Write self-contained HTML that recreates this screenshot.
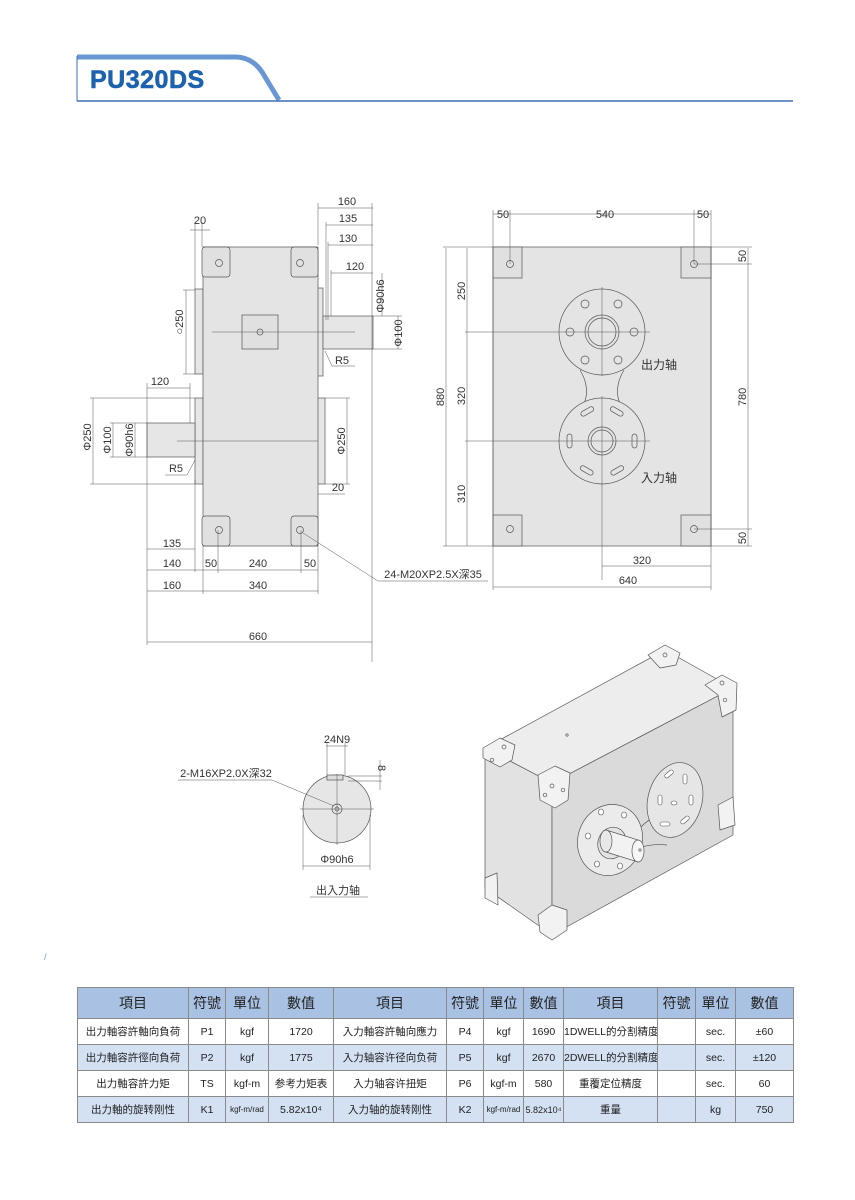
<!DOCTYPE html>
<html><head><meta charset="utf-8"><style>
body{margin:0;width:855px;height:1200px;background:#fff;position:relative;overflow:hidden;font-family:"Liberation Sans","Noto Sans CJK TC",sans-serif}
svg{position:absolute;left:0;top:0}
table{position:absolute;left:77px;top:987px;border-collapse:collapse;width:716px;font-size:10.5px;color:#222;table-layout:fixed}
td{border:1px solid #8a8a8a;text-align:center;height:25px;padding:0;white-space:nowrap;overflow:hidden}
tr.h td{background:#a9c1e2;font-size:14px;height:30px}
tr.b td{background:#d3e1f3}
</style></head><body>
<svg width="855" height="1200" viewBox="0 0 855 1200" font-family="Liberation Sans, Noto Sans CJK TC, sans-serif" font-size="11" fill="none" stroke="#444" stroke-width="0.7">
<!-- header -->
<path d="M77 57 H235 Q252 57 262 72 L279 100" stroke="#6a97d4" stroke-width="5" />
<line x1="77" y1="101" x2="793" y2="101" stroke="#3d6fb5" stroke-width="1.5"/>
<line x1="77" y1="56" x2="77" y2="101" stroke="#3d6fb5" stroke-width="1"/>
<text x="90" y="88" font-size="25" font-weight="bold" fill="#1c62ae" stroke="#1c62ae" stroke-width="0.6" letter-spacing="0.5">PU320DS</text>
<text x="44" y="960" font-size="9" fill="#6a97d4" stroke="none">/</text>

<!-- LEFT VIEW -->
<g stroke="#555">
<rect x="195" y="289" width="8" height="85" fill="#e6e6e6"/>
<rect x="315" y="288" width="8" height="88" fill="#e6e6e6"/>
<rect x="195" y="398" width="8" height="86" fill="#e6e6e6"/>
<rect x="317" y="398" width="8" height="86" fill="#e6e6e6"/>
<rect x="203" y="247" width="115" height="299" fill="#e4e4e4"/>
<rect x="202" y="247" width="28" height="30" rx="3" fill="#e0e0e0"/>
<rect x="291" y="247" width="27" height="30" rx="3" fill="#e0e0e0"/>
<rect x="202" y="516" width="28" height="30" rx="3" fill="#e0e0e0"/>
<rect x="291" y="516" width="27" height="30" rx="3" fill="#e0e0e0"/>
<circle cx="219" cy="263" r="3.5"/><circle cx="300" cy="263" r="3.5"/>
<circle cx="219" cy="530" r="3.5"/><circle cx="300" cy="530" r="3.5"/>
<rect x="242" y="315" width="36" height="34" fill="#e0e0e0"/>
<circle cx="260" cy="332" r="3"/>
<rect x="323" y="316" width="50" height="33" fill="#e6e6e6"/>
<rect x="147" y="423" width="48" height="34" fill="#e6e6e6"/>
</g>
<g stroke="#555" stroke-width="0.5">
<line x1="212" y1="332" x2="355" y2="332"/><line x1="177" y1="441" x2="318" y2="441"/>
<line x1="318" y1="208" x2="373" y2="208"/><line x1="326" y1="225" x2="373" y2="225"/>
<line x1="328" y1="245" x2="373" y2="245"/><line x1="331" y1="273" x2="373" y2="273"/>
<line x1="318" y1="203" x2="318" y2="245"/><line x1="326" y1="222" x2="326" y2="320"/>
<line x1="328" y1="242" x2="328" y2="320"/><line x1="331" y1="270" x2="331" y2="316"/>
<line x1="372" y1="203" x2="372" y2="662"/>
<line x1="373" y1="316" x2="402" y2="316"/><line x1="373" y1="349" x2="402" y2="349"/>
<line x1="398" y1="316" x2="398" y2="349"/><line x1="382" y1="273" x2="382" y2="316"/>
<line x1="190" y1="230" x2="210" y2="230"/><line x1="202" y1="222" x2="202" y2="247"/><line x1="195" y1="222" x2="195" y2="289"/>
<line x1="186" y1="290" x2="186" y2="374"/><line x1="183" y1="290" x2="195" y2="290"/><line x1="183" y1="374" x2="195" y2="374"/>
<line x1="147" y1="388" x2="190" y2="388"/><line x1="147" y1="383" x2="147" y2="645"/><line x1="190" y1="383" x2="190" y2="423"/>
<line x1="93" y1="398" x2="93" y2="484"/><line x1="90" y1="398" x2="195" y2="398"/><line x1="90" y1="484" x2="195" y2="484"/>
<line x1="113" y1="423" x2="113" y2="457"/><line x1="110" y1="423" x2="147" y2="423"/><line x1="110" y1="457" x2="147" y2="457"/>
<line x1="135" y1="423" x2="135" y2="457"/>
<line x1="347" y1="398" x2="347" y2="484"/><line x1="325" y1="398" x2="350" y2="398"/><line x1="325" y1="484" x2="350" y2="484"/>
<line x1="318" y1="494" x2="345" y2="494"/>
<line x1="325" y1="351" x2="332" y2="366"/><line x1="332" y1="366" x2="355" y2="366"/>
<line x1="195" y1="460" x2="187" y2="475"/><line x1="165" y1="475" x2="187" y2="475"/>
<line x1="147" y1="549" x2="195" y2="549"/><line x1="195" y1="480" x2="195" y2="572"/>
<line x1="147" y1="570" x2="318" y2="570"/><line x1="203" y1="546" x2="203" y2="594"/>
<line x1="218" y1="530" x2="218" y2="573"/><line x1="301" y1="530" x2="301" y2="573"/>
<line x1="318" y1="546" x2="318" y2="594"/>
<line x1="147" y1="591" x2="318" y2="591"/>
<line x1="147" y1="642" x2="372" y2="642"/>
<line x1="303" y1="533" x2="378" y2="581"/><line x1="378" y1="581" x2="488" y2="581"/>
</g>
<g fill="#333" stroke="none" text-anchor="middle">
<text x="347" y="205">160</text><text x="348" y="222">135</text><text x="348" y="242">130</text><text x="355" y="270">120</text>
<text x="200" y="224">20</text><text x="342" y="364">R5</text><text x="176" y="472">R5</text>
<text x="160" y="385">120</text><text x="338" y="491">20</text>
<text x="172" y="547">135</text><text x="172" y="567">140</text><text x="211" y="567">50</text><text x="258" y="567">240</text><text x="310" y="567">50</text>
<text x="172" y="589">160</text><text x="258" y="589">340</text><text x="258" y="640">660</text>
<text x="433" y="578">24-M20XP2.5X深35</text>
<text transform="translate(384,296) rotate(-90)">Φ90h6</text>
<text transform="translate(402,333) rotate(-90)">Φ100</text>
<text transform="translate(183,322) rotate(-90)">○250</text>
<text transform="translate(91,437) rotate(-90)">Φ250</text>
<text transform="translate(111,440) rotate(-90)">Φ100</text>
<text transform="translate(133,440) rotate(-90)">Φ90h6</text>
<text transform="translate(345,441) rotate(-90)">Φ250</text>
</g>

<!-- RIGHT VIEW -->
<g stroke="#555">
<rect x="493" y="247" width="218" height="299" fill="#e4e4e4"/>
<rect x="493" y="247" width="29" height="31" fill="#e0e0e0"/>
<rect x="681" y="247" width="30" height="31" fill="#e0e0e0"/>
<rect x="493" y="515" width="29" height="31" fill="#e0e0e0"/>
<rect x="681" y="515" width="30" height="31" fill="#e0e0e0"/>
<circle cx="510" cy="264" r="3.5"/><circle cx="694" cy="264" r="3.5"/>
<circle cx="510" cy="529" r="3.5"/><circle cx="694" cy="529" r="3.5"/>
<path d="M580 370 Q592 390 582 408" /><path d="M624 370 Q612 390 622 408"/>
<circle cx="602" cy="332" r="43" fill="#e4e4e4"/>
<circle cx="602" cy="441" r="43" fill="#e4e4e4"/>
<circle cx="602" cy="332" r="17"/><circle cx="602" cy="332" r="14"/>
<circle cx="602" cy="441" r="14"/><circle cx="602" cy="441" r="11"/>
<circle cx="585" cy="304" r="4"/><circle cx="618" cy="304" r="4"/><circle cx="570" cy="332" r="4"/><circle cx="634" cy="332" r="4"/><circle cx="585" cy="360" r="4"/><circle cx="618" cy="360" r="4"/>
<g fill="none">
<rect x="580" y="409" width="14" height="5" rx="2.5" transform="rotate(-30 587 411)"/>
<rect x="610" y="409" width="14" height="5" rx="2.5" transform="rotate(30 617 411)"/>
<rect x="567" y="434" width="5" height="14" rx="2.5"/><rect x="632" y="434" width="5" height="14" rx="2.5"/>
<rect x="580" y="468" width="14" height="5" rx="2.5" transform="rotate(30 587 470)"/>
<rect x="610" y="468" width="14" height="5" rx="2.5" transform="rotate(-30 617 470)"/>
</g>
</g>
<g stroke="#555" stroke-width="0.5">
<line x1="555" y1="332" x2="650" y2="332"/><line x1="602" y1="287" x2="602" y2="376"/>
<line x1="465" y1="332" x2="555" y2="332"/><line x1="465" y1="441" x2="650" y2="441"/>
<line x1="602" y1="396" x2="602" y2="580"/>
<line x1="493" y1="214" x2="711" y2="214"/><line x1="493" y1="210" x2="493" y2="590"/><line x1="711" y1="210" x2="711" y2="590"/>
<line x1="510" y1="210" x2="510" y2="264"/><line x1="694" y1="210" x2="694" y2="264"/>
<line x1="446" y1="248" x2="446" y2="546"/><line x1="443" y1="247" x2="493" y2="247"/><line x1="443" y1="546" x2="493" y2="546"/>
<line x1="467" y1="248" x2="467" y2="546"/>
<line x1="748" y1="248" x2="748" y2="546"/><line x1="711" y1="247" x2="752" y2="247"/><line x1="711" y1="546" x2="752" y2="546"/>
<line x1="694" y1="264" x2="752" y2="264"/><line x1="694" y1="529" x2="752" y2="529"/>
<line x1="602" y1="566" x2="711" y2="566"/><line x1="493" y1="587" x2="711" y2="587"/>
</g>
<g fill="#333" stroke="none" text-anchor="middle">
<text x="503" y="218">50</text><text x="605" y="218">540</text><text x="703" y="218">50</text>
<text x="659" y="369" font-size="12">出力轴</text><text x="659" y="482" font-size="12">入力轴</text>
<text x="642" y="564">320</text><text x="628" y="584">640</text>
<text transform="translate(444,397) rotate(-90)">880</text>
<text transform="translate(465,291) rotate(-90)">250</text>
<text transform="translate(465,396) rotate(-90)">320</text>
<text transform="translate(465,494) rotate(-90)">310</text>
<text transform="translate(746,397) rotate(-90)">780</text>
<text transform="translate(746,256) rotate(-90)">50</text>
<text transform="translate(746,538) rotate(-90)">50</text>
</g>

<!-- SMALL VIEW -->
<g stroke="#555">
<circle cx="337" cy="809" r="34" fill="#e6e6e6"/>
<rect x="327" y="775" width="16" height="5" fill="#dcdcdc"/>
<circle cx="337" cy="809" r="5"/><circle cx="337" cy="809" r="2"/>
</g>
<g stroke="#555" stroke-width="0.5">
<line x1="300" y1="809" x2="374" y2="809"/><line x1="337" y1="774" x2="337" y2="845"/>
<line x1="326" y1="746" x2="348" y2="746"/><line x1="327" y1="743" x2="327" y2="775"/><line x1="345" y1="743" x2="345" y2="775"/>
<line x1="348" y1="776" x2="382" y2="776"/><line x1="348" y1="781" x2="382" y2="781"/><line x1="380" y1="760" x2="380" y2="790"/>
<line x1="178" y1="780" x2="272" y2="780"/><line x1="272" y1="780" x2="334" y2="806"/>
<line x1="303" y1="815" x2="303" y2="870"/><line x1="370" y1="815" x2="370" y2="870"/><line x1="303" y1="866" x2="370" y2="866"/>
<line x1="310" y1="897" x2="368" y2="897"/>
</g>
<g fill="#333" stroke="none" text-anchor="middle">
<text x="337" y="743">24N9</text><text x="226" y="777">2-M16XP2.0X深32</text>
<text x="337" y="863">Φ90h6</text><text x="338" y="894">出入力轴</text>
<text transform="translate(378,768) rotate(90)">8</text>
</g>

<!-- 3D -->
<g stroke="#555" stroke-linejoin="round">
<polygon points="485,748 552,783 733,688 665,650" fill="#ededed"/>
<polygon points="485,748 552,783 552,935 485,888" fill="#e2e2e2"/>
<polygon points="552,783 733,688 733,835 552,935" fill="#dadada"/>
<path d="M640 828 Q655 812 670 815" fill="none"/><path d="M633 850 Q650 843 667 845" fill="none"/>
<ellipse cx="675" cy="800" rx="27" ry="38" transform="rotate(15 675 800)" fill="#e6e6e6"/>
<g stroke-width="0.6" fill="#fff">
<rect x="664" y="772" width="10" height="4" rx="2" transform="rotate(-40 669 774)"/>
<rect x="683" y="774" width="4" height="10" rx="2"/>
<rect x="689" y="795" width="4" height="10" rx="2"/>
<rect x="680" y="818" width="10" height="4" rx="2" transform="rotate(-40 685 820)"/>
<rect x="660" y="822" width="10" height="4" rx="2"/>
<rect x="658" y="795" width="4" height="10" rx="2"/>
<ellipse cx="674" cy="803" rx="3" ry="2"/>
</g>
<ellipse cx="610" cy="840" rx="32" ry="36" transform="rotate(20 610 840)" fill="#ebebeb"/>
<ellipse cx="612" cy="843" rx="14" ry="16" transform="rotate(20 612 843)" fill="#e2e2e2"/>
<g fill="#fff" stroke-width="0.6">
<ellipse cx="601" cy="812" rx="2.5" ry="3"/><ellipse cx="624" cy="815" rx="2.5" ry="3"/>
<ellipse cx="588" cy="836" rx="2.5" ry="3"/><ellipse cx="635" cy="845" rx="2.5" ry="3"/>
<ellipse cx="597" cy="864" rx="2.5" ry="3"/><ellipse cx="620" cy="866" rx="2.5" ry="3"/>
</g>
<polygon points="606,830 638,840 638,862 606,852" fill="#f2f2f2"/>
<ellipse cx="606" cy="841" rx="6" ry="11" fill="#e8e8e8"/>
<ellipse cx="638" cy="851" rx="6" ry="11" fill="#f6f6f6"/>
<circle cx="640" cy="850" r="1.2"/>
<g fill="#f2f2f2">
<polygon points="483,748 500,738 515,745 512,760 500,767 483,758"/>
<polygon points="538,775 555,766 570,773 568,800 555,808 540,800"/>
<polygon points="648,655 665,645 680,653 676,665 660,668"/>
<polygon points="705,685 722,675 737,683 736,710 722,717 718,695"/>
<polygon points="485,878 497,873 498,905 485,898"/>
<polygon points="538,915 552,905 567,910 567,930 552,940 540,932"/>
<polygon points="718,805 733,797 735,825 720,830"/>
</g>
<circle cx="504" cy="747" r="2"/><circle cx="552" cy="786" r="2"/><circle cx="665" cy="655" r="2"/><circle cx="722" cy="683" r="2"/>
<circle cx="545" cy="795" r="1.8"/><circle cx="563" cy="790" r="1.8"/><circle cx="725" cy="700" r="1.8"/><circle cx="492" cy="760" r="1.8"/>
<circle cx="567" cy="735" r="1.2"/>
</g>
</svg>
<table>
<colgroup><col style="width:111px"><col style="width:37px"><col style="width:43px"><col style="width:65px"><col style="width:113px"><col style="width:37px"><col style="width:40px"><col style="width:40px"><col style="width:94px"><col style="width:38px"><col style="width:40px"><col style="width:58px"></colgroup>
<tr class="h"><td>項目</td><td>符號</td><td>單位</td><td>數值</td><td>項目</td><td>符號</td><td>單位</td><td>數值</td><td>項目</td><td>符號</td><td>單位</td><td>數值</td></tr>
<tr><td>出力軸容許軸向負荷</td><td>P1</td><td>kgf</td><td>1720</td><td>入力軸容許軸向應力</td><td>P4</td><td>kgf</td><td>1690</td><td>1DWELL的分割精度</td><td></td><td>sec.</td><td>±60</td></tr>
<tr class="b"><td>出力軸容許徑向負荷</td><td>P2</td><td>kgf</td><td>1775</td><td>入力轴容许径向负荷</td><td>P5</td><td>kgf</td><td>2670</td><td>2DWELL的分割精度</td><td></td><td>sec.</td><td>±120</td></tr>
<tr><td>出力軸容許力矩</td><td>TS</td><td>kgf-m</td><td>参考力矩表</td><td>入力轴容许扭矩</td><td>P6</td><td>kgf-m</td><td>580</td><td>重覆定位精度</td><td></td><td>sec.</td><td>60</td></tr>
<tr class="b"><td>出力軸的旋转刚性</td><td>K1</td><td style="font-size:8px">kgf-m/rad</td><td>5.82x10⁴</td><td>入力轴的旋转刚性</td><td>K2</td><td style="font-size:8px">kgf-m/rad</td><td style="font-size:9px">5.82x10⁴</td><td>重量</td><td></td><td>kg</td><td>750</td></tr>
</table>
</body></html>
